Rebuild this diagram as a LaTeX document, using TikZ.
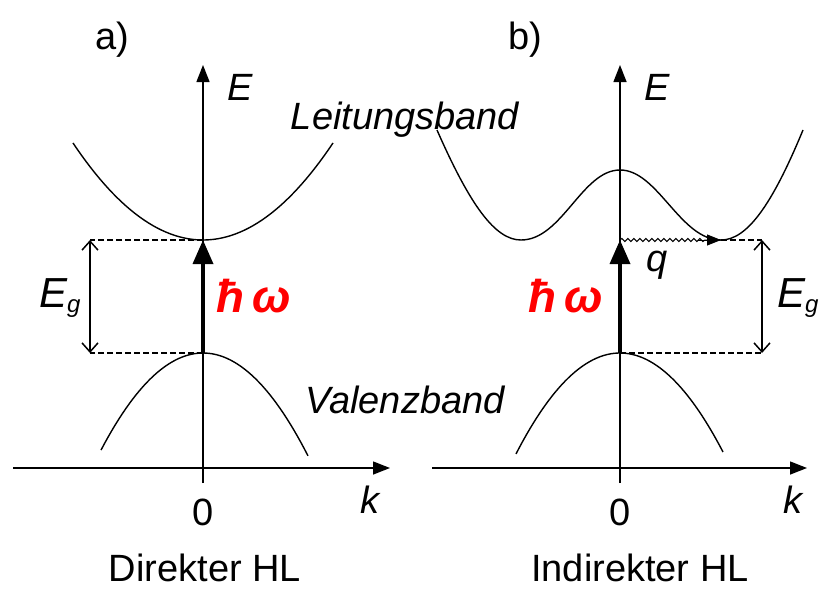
\documentclass[tikz,border=0pt]{standalone}
\usepackage{fontspec}
\setmainfont{Liberation Sans}
\usetikzlibrary{arrows.meta,decorations.pathmorphing}

\begin{document}
\begin{tikzpicture}[
    x=1pt, y=-1pt,
    every node/.style={font=\fontsize{38}{44}\selectfont, inner sep=0pt},
    axis/.style={line width=1.4pt, -{Triangle[length=17pt,width=13pt]}},
    band/.style={line width=1.4pt},
    guide/.style={line width=1.2pt, dashed, dash pattern=on 6pt off 3pt},
    gap/.style={line width=1.5pt, {Straight Barb[length=9pt,width=16pt]}-{Straight Barb[length=9pt,width=16pt]}},
    photon/.style={line width=3.5pt, -{Triangle[length=24pt,width=20pt]}},
    phonon/.style={line width=1pt, decorate, decoration={snake, amplitude=1.6pt, segment length=6pt, post length=14pt}},
    label/.style={font=\fontsize{38}{44}\selectfont\itshape},
    energy/.style={font=\fontsize{46}{50}\selectfont\bfseries\itshape, text=red}
]
\useasboundingbox (0,0) rectangle (819,594);

% Direct semiconductor
\coordinate (a0) at (203,483);
\coordinate (aL) at (13,468);
\coordinate (aR) at (390,468);
\coordinate (aT) at (203,65);
\coordinate (aC) at (203,240);
\coordinate (aV) at (203,353);
\coordinate (aC1) at (90,240);
\coordinate (aV1) at (90,353);

\draw[axis] (aL) -- (aR);
\draw[axis] (a0) -- (aT);
\draw[band, domain=-130:130, samples=60] plot ({203+\x}, {240 - 0.574*(\x/10)^2});
\draw[band, domain=-102:105, samples=60] plot ({203+\x}, {353 + 0.933*(\x/10)^2});
\draw[guide] (aC) -- (aC1);
\draw[guide] (aV) -- (aV1);
\draw[gap] (aC1) -- (aV1);
\draw[photon] (aV) -- (aC);

\node (pa) at (112,40) {a)};
\node[label] (Ea) at (240,87) {E};
\node[label] (ka) at (370,500) {k};
\node (za) at (203,512) {0};
\node[label] (ga) at (60,298) {\fontsize{42}{46}\selectfont E\textsubscript{\fontsize{24}{26}\selectfont g}};
\node[energy] (wa) at (254,296) {ħ\,ω};
\node[label] (lb) at (405,120) {Leitungsband};
\node[label] (vb) at (405,400) {Valenzband};
\node (ta) at (205,568) {Direkter HL};

% Indirect semiconductor
\coordinate (b0) at (620,483);
\coordinate (bL) at (432,468);
\coordinate (bR) at (807,468);
\coordinate (bT) at (620,65);
\coordinate (bC) at (620,240);
\coordinate (bV) at (620,353);
\coordinate (bM) at (721,240);
\coordinate (bC1) at (762,240);
\coordinate (bV1) at (762,353);

\draw[axis] (bL) -- (bR);
\draw[axis] (b0) -- (bT);
\draw[band] (437,130) .. controls (470,205) and (495,240) .. (521,240)
    .. controls (562,240) and (582,170) .. (620,170)
    .. controls (658,170) and (680,240) .. (721,240)
    .. controls (747,240) and (772,205) .. (803,130);
\draw[band, domain=-104:103, samples=60] plot ({620+\x}, {353 + 0.933*(\x/10)^2});
\draw[guide] (bM) -- (bC1);
\draw[guide] (bV) -- (bV1);
\draw[gap] (bC1) -- (bV1);
\draw[photon] (bV) -- (bC);
\draw[phonon] (bC) -- (bM);
\draw[-{Triangle[length=14pt,width=11pt]}, line width=1pt] (698,240) -- (bM);

\node (pb) at (525,40) {b)};
\node[label] (Eb) at (657,87) {E};
\node[label] (kb) at (793,500) {k};
\node (zb) at (620,512) {0};
\node[label] (q) at (657,265) {q};
\node[label, anchor=west] (gb) at (777,298) {\fontsize{42}{46}\selectfont E\textsubscript{\fontsize{24}{26}\selectfont g}};
\node[energy] (wb) at (566,296) {ħ\,ω};
\node (tb) at (640,568) {Indirekter HL};
\end{tikzpicture}
\end{document}
